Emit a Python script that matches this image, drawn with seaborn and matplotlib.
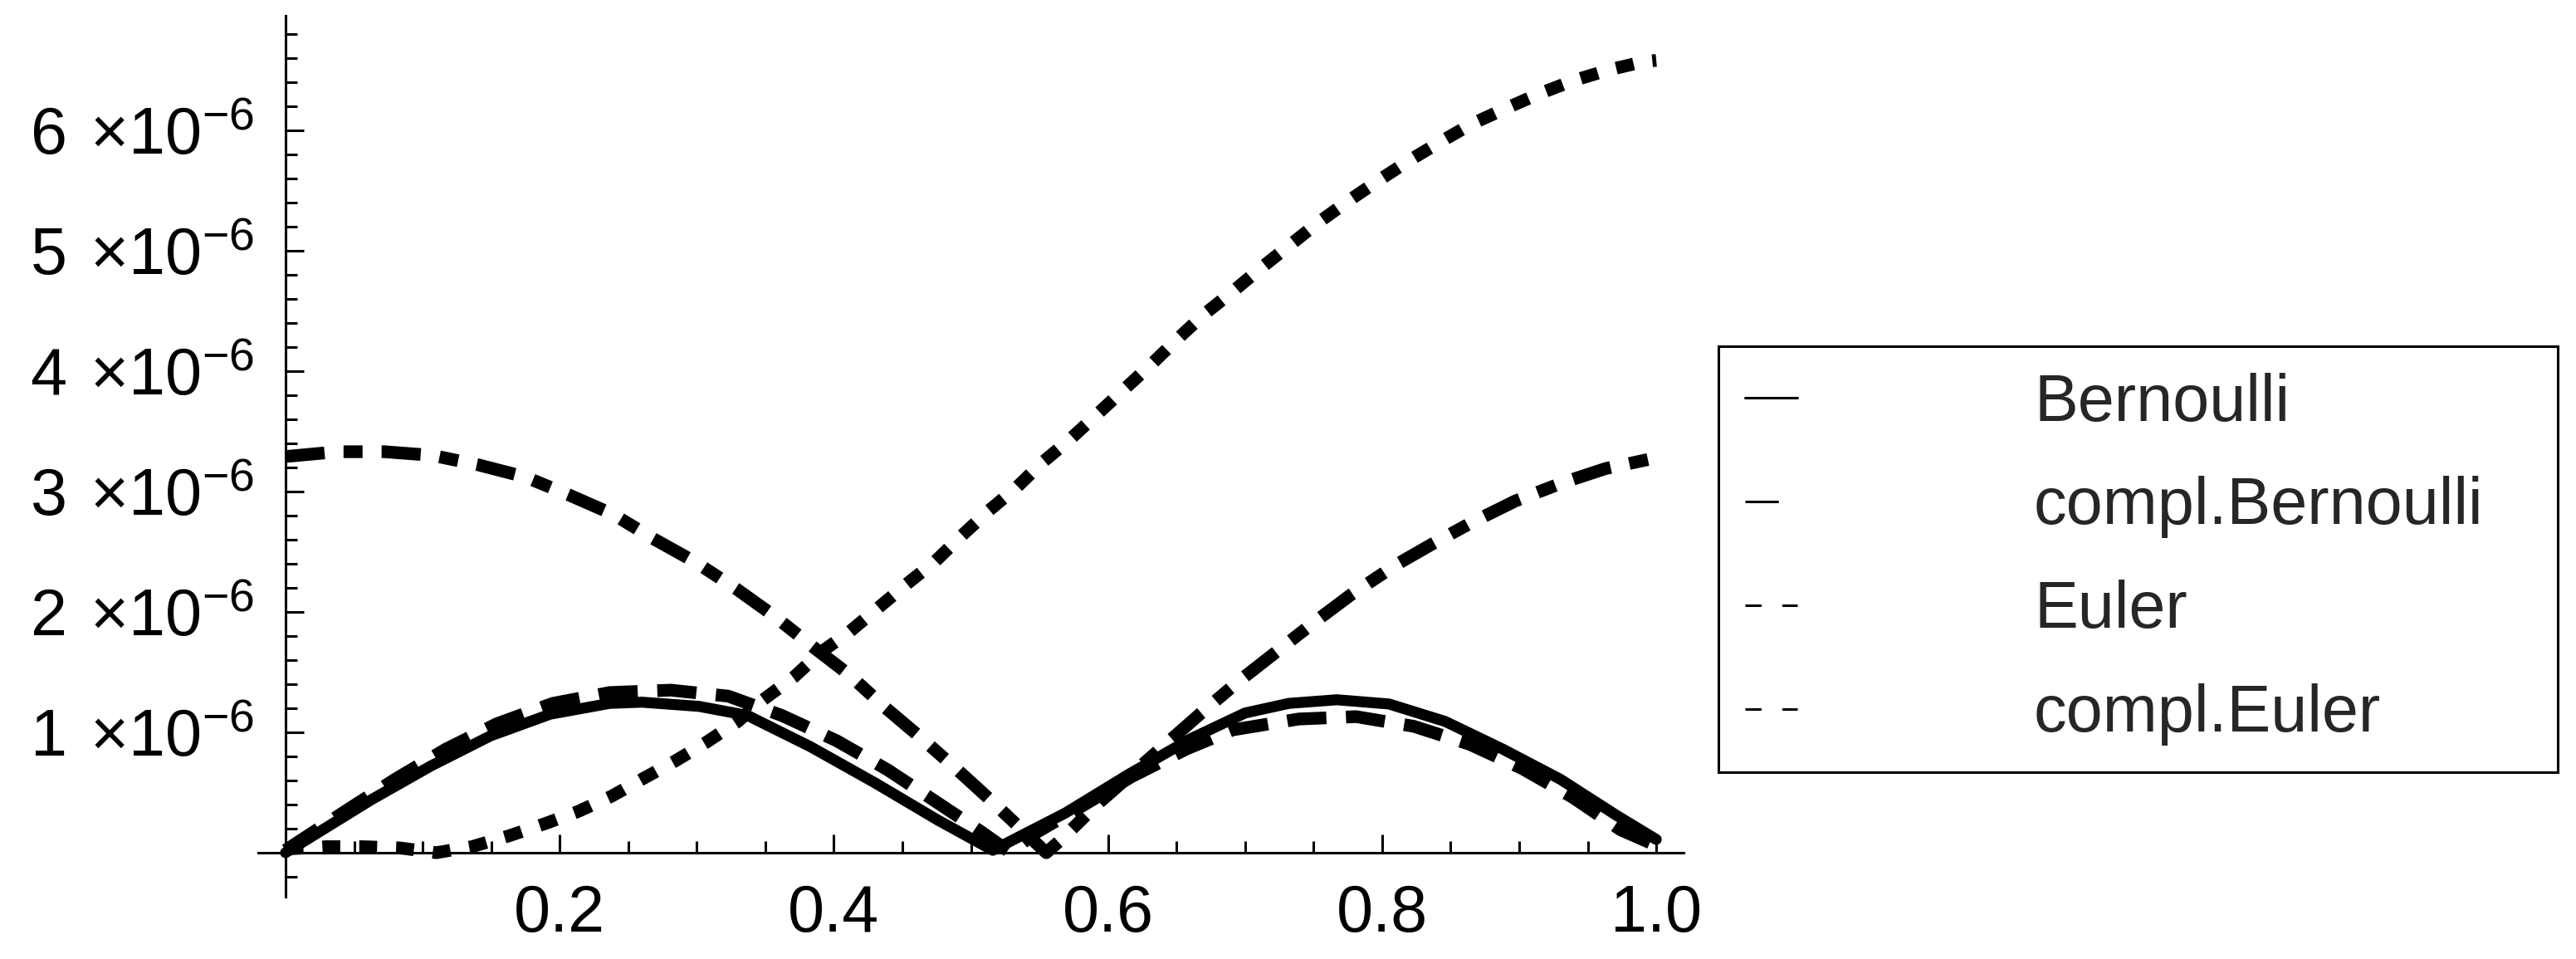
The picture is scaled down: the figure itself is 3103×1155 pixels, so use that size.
# Quadrature error curves: Bernoulli / Euler and their complementary versions

import seaborn as sns
import matplotlib.pyplot as plt
from matplotlib.lines import Line2D
from matplotlib.ticker import FixedLocator, MultipleLocator

# values (y in units of 1e-6)
bern_x = [0, 0.0626, 0.106, 0.1495, 0.193, 0.2365, 0.26, 0.3017, 0.337, 0.383,
          0.43, 0.476, 0.516, 0.569, 0.615, 0.661, 0.70, 0.732, 0.767, 0.805,
          0.846, 0.888, 0.93, 0.971, 1.0]
bern_y = [0, 0.44, 0.72, 0.97, 1.15, 1.24, 1.25, 1.215, 1.14, 0.88,
          0.58, 0.27, 0.02, 0.33, 0.65, 0.95, 1.16, 1.24, 1.27, 1.235,
          1.09, 0.86, 0.61, 0.31, 0.11]

cbern_x = [0, 0.045, 0.080, 0.117, 0.154, 0.195, 0.2365, 0.281, 0.323, 0.362,
           0.402, 0.439, 0.475, 0.508, 0.529, 0.545, 0.580, 0.617, 0.657, 0.691,
           0.739, 0.781, 0.823, 0.864, 0.902, 0.939, 0.974, 1.0]
cbern_y = [0.02, 0.355, 0.61, 0.86, 1.07, 1.24, 1.33, 1.35, 1.30, 1.14,
           0.93, 0.69, 0.42, 0.17, 0.0, 0.15, 0.38, 0.63, 0.86, 1.02,
           1.11, 1.13, 1.05, 0.90, 0.70, 0.46, 0.19, 0.06]

euler_x = [0, 0.03, 0.056, 0.083, 0.11, 0.136, 0.163, 0.189, 0.213, 0.238, 0.26,
           0.284, 0.306, 0.33, 0.346, 0.371, 0.39, 0.412, 0.432, 0.453, 0.474,
           0.493, 0.513, 0.533, 0.552, 0.572, 0.632, 0.651, 0.670, 0.691, 0.711,
           0.732, 0.753, 0.775, 0.797, 0.820, 0.842, 0.865, 0.890, 0.914, 0.939,
           0.965, 0.991, 1.0]
euler_y = [0.03, 0.05, 0.05, 0.04, 0.0, 0.05, 0.14, 0.24, 0.34, 0.47, 0.61,
           0.76, 0.91, 1.09, 1.25, 1.46, 1.66, 1.84, 2.03, 2.23, 2.42,
           2.63, 2.84, 3.03, 3.24, 3.43, 4.06, 4.27, 4.47, 4.66, 4.85,
           5.04, 5.23, 5.41, 5.58, 5.75, 5.90, 6.05, 6.18, 6.30, 6.41,
           6.50, 6.57, 6.58]

ceuler_x = [0, 0.038, 0.072, 0.107, 0.141, 0.175, 0.207, 0.239, 0.268, 0.2995,
            0.329, 0.356, 0.387, 0.411, 0.437, 0.463, 0.489, 0.515, 0.555, 0.566,
            0.592, 0.668, 0.695, 0.750, 0.777, 0.81, 0.836, 0.865, 0.897, 0.931,
            0.963, 1.0]
ceuler_y = [3.29, 3.33, 3.33, 3.30, 3.22, 3.12, 2.97, 2.81, 2.61, 2.41,
            2.19, 1.97, 1.69, 1.48, 1.21, 0.96, 0.70, 0.43, 0.0, 0.11,
            0.40, 1.16, 1.42, 1.91, 2.14, 2.39, 2.56, 2.74, 2.92, 3.07,
            3.19, 3.28]

names = ["Bernoulli", "compl.Bernoulli", "Euler", "compl.Euler"]
xtick_vals = [0.2, 0.4, 0.6, 0.8, 1.0]
xtick_labels = ["0.2", "0.4", "0.6", "0.8", "1.0"]
ytick_vals = [1, 2, 3, 4, 5, 6]
ytick_labels = [f"{v} \u200a×10$^{{-6}}$" for v in ytick_vals]

sns.set_theme(style="white")
plt.rcParams["font.family"] = ["Liberation Sans", "DejaVu Sans"]
plt.rcParams["mathtext.fontset"] = "custom"
plt.rcParams["mathtext.rm"] = "Liberation Sans"
plt.rcParams["mathtext.default"] = "regular"
plt.rcParams["lines.scale_dashes"] = False

fig = plt.figure(figsize=(31.03, 11.55), dpi=100)
ax = fig.add_axes([0.1002, 0.0649, 0.5534, 0.9186])

scale = 1e-6
sns.lineplot(x=bern_x, y=[v * scale for v in bern_y], ax=ax, color="black",
             lw=9.5, linestyle="-", sort=False)
sns.lineplot(x=cbern_x, y=[v * scale for v in cbern_y], ax=ax, color="black",
             lw=11, linestyle=(0, (34, 17)), sort=False)
sns.lineplot(x=euler_x, y=[v * scale for v in euler_y], ax=ax, color="black",
             lw=11, linestyle=(0, (15.5, 16.5)), sort=False)
sns.lineplot(x=ceuler_x, y=[v * scale for v in ceuler_y], ax=ax, color="black",
             lw=11, linestyle=(0, (34, 16.5, 16.5, 16.5)), sort=False)

ax.set_xlim(-0.02, 1.02)
ax.set_ylim(-0.366e-6, 6.95e-6)

# axes cross at the origin, Mathematica style
for side in ["top", "right"]:
    ax.spines[side].set_visible(False)
ax.spines["left"].set_position(("data", 0))
ax.spines["bottom"].set_position(("data", 0))
for side in ["left", "bottom"]:
    ax.spines[side].set_color("black")
    ax.spines[side].set_linewidth(2.2)

ax.xaxis.set_major_locator(FixedLocator(xtick_vals))
ax.set_xticklabels(xtick_labels)
ax.xaxis.set_minor_locator(MultipleLocator(0.05))
ax.yaxis.set_major_locator(FixedLocator([v * scale for v in ytick_vals]))
ax.set_yticklabels(ytick_labels)
ax.yaxis.set_minor_locator(MultipleLocator(0.2e-6))

ax.tick_params(which="both", direction="in", color="black", width=2.2,
               labelsize=57, labelcolor="black", pad=27)
ax.tick_params(which="major", length=16)
ax.tick_params(which="minor", length=10)
ax.tick_params(axis="y", which="both", left=True)
ax.tick_params(axis="x", which="both", bottom=True)

handles = [
    Line2D([], [], color="black", lw=2.2, linestyle="-"),
    Line2D([], [], color="black", lw=2.2, linestyle=(0, (29, 100))),
    Line2D([], [], color="black", lw=2.2, linestyle=(0, (14, 18, 14, 100))),
    Line2D([], [], color="black", lw=2.2, linestyle=(0, (14, 18, 14, 100))),
]
leg = ax.legend(handles, names, loc="upper left",
                bbox_to_anchor=(0.6671, 0.2009, 0.3258, 0.4381),
                bbox_transform=fig.transFigure, mode="expand", borderaxespad=0,
                fontsize=57, frameon=True, fancybox=False, framealpha=1,
                edgecolor="black", borderpad=0.4, labelspacing=0.63,
                handlelength=0.8, handletextpad=3.6)
leg.get_frame().set_linewidth(2.2)

fig.savefig("out.png", dpi=100, facecolor="white")
